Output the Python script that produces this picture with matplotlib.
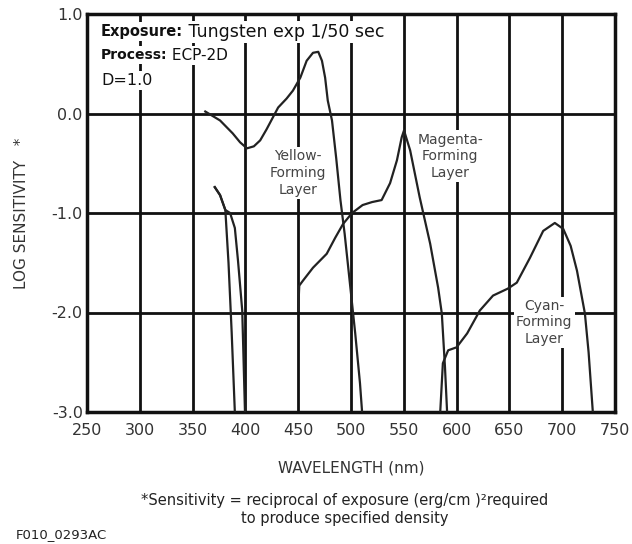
import matplotlib
matplotlib.use("Agg")
import matplotlib.pyplot as plt

# values (wavelength nm, log sensitivity)
yellow_nm = [362, 376, 388, 395, 401.5, 408, 414, 420, 426, 431, 439, 445, 452, 458, 464, 469, 472.5,
             475.5, 478, 482, 486, 490, 494, 499, 504, 508.5, 510.5]
yellow_ls = [0.02, -0.07, -0.20, -0.29, -0.35, -0.33, -0.27, -0.16, -0.04, 0.06, 0.15, 0.23, 0.36, 0.53,
             0.61, 0.62, 0.53, 0.36, 0.13, -0.07, -0.45, -0.87, -1.21, -1.71, -2.21, -2.71, -3.0]

uv_nm_a = [371, 376, 381, 384, 387, 390]
uv_ls_a = [-0.74, -0.82, -0.97, -1.5, -2.2, -3.0]
uv_nm_b = [371, 376, 381, 385.5, 390, 393, 397, 399.6]
uv_ls_b = [-0.74, -0.82, -0.97, -1.0, -1.15, -1.48, -1.98, -3.0]

magenta_nm = [450, 451, 454.5, 464, 477, 485, 492.5, 501, 511, 520, 529, 537, 543.5, 548, 550.2,
              556, 565, 575, 582.5, 586, 589, 591]
magenta_ls = [-1.98, -1.73, -1.68, -1.55, -1.41, -1.25, -1.11, -1.0, -0.92, -0.89, -0.87, -0.70, -0.47,
              -0.24, -0.17, -0.37, -0.84, -1.31, -1.75, -2.01, -2.55, -3.0]

cyan_nm = [584.5, 587, 592, 600, 610, 622, 634.5, 648.5, 657, 669.5, 682, 693, 701, 708, 714, 721.5, 725, 729]
cyan_ls = [-3.0, -2.51, -2.38, -2.35, -2.21, -1.98, -1.83, -1.76, -1.70, -1.45, -1.18, -1.10, -1.16,
           -1.33, -1.58, -2.01, -2.4, -3.0]

x_ticks = [250, 300, 350, 400, 450, 500, 550, 600, 650, 700, 750]
y_ticks = [1.0, 0.0, -1.0, -2.0, -3.0]

fig = plt.figure(figsize=(6.32, 5.44), dpi=100)
ax = fig.add_axes([87 / 632, 1 - 412 / 544, 528 / 632, 398 / 544])
ax.set_xlim(250, 750)
ax.set_ylim(-3.0, 1.0)
ax.set_xticks(x_ticks)
ax.set_yticks(y_ticks)
ax.set_yticklabels([f'{v:.1f}' for v in y_ticks])
ax.tick_params(length=0, labelsize=11.5, labelcolor='#333333')
ax.tick_params(axis='x', pad=8)
ax.tick_params(axis='y', pad=3)
ax.grid(True, color='#111111', lw=2)
ax.set_axisbelow(True)
for s in ax.spines.values():
    s.set_linewidth(2.5)
    s.set_color('#111111')

lc = '#222222'
ax.plot(yellow_nm, yellow_ls, color=lc, lw=1.6, zorder=4)
ax.plot(uv_nm_a, uv_ls_a, color=lc, lw=1.6, zorder=4)
ax.plot(uv_nm_b, uv_ls_b, color=lc, lw=1.6, zorder=4)
ax.plot(magenta_nm, magenta_ls, color=lc, lw=1.6, zorder=4)
ax.plot(cyan_nm, cyan_ls, color=lc, lw=1.6, zorder=4)

wb = dict(facecolor='white', edgecolor='none', pad=1.5)
t1 = ax.text(263, 0.82, 'Exposure:', fontsize=10.5, fontweight='bold', color='#111111',
             va='center', bbox=wb, zorder=3)
ax.annotate(' Tungsten exp 1/50 sec', xy=(1, 0.5), xycoords=t1, fontsize=12.5, color='#111111',
            va='center', bbox=wb, zorder=3)
t2 = ax.text(263, 0.585, 'Process:', fontsize=10, fontweight='bold', color='#111111',
             va='center', bbox=wb, zorder=3)
ax.annotate(' ECP-2D', xy=(1, 0.5), xycoords=t2, fontsize=11, color='#111111',
            va='center', bbox=wb, zorder=3)
ax.text(264, 0.33, 'D=1.0', fontsize=11.5, color='#111111', va='center', bbox=wb, zorder=3)

lab = dict(fontsize=10, color='#444444', ha='center', va='center', linespacing=1.25, bbox=wb, zorder=3)
ax.text(450, -0.6, 'Yellow-\nForming\nLayer', **lab)
ax.text(594, -0.43, 'Magenta-\nForming\nLayer', **lab)
ax.text(683, -2.1, 'Cyan-\nForming\nLayer', **lab)

ax.set_xlabel('WAVELENGTH (nm)', fontsize=11, color='#333333', labelpad=16)
ax.set_ylabel('LOG SENSITIVITY   *', fontsize=11, color='#333333', labelpad=16)

fig.text(0.545, 1 - 500 / 544, '*Sensitivity = reciprocal of exposure (erg/cm )\u00b2required',
         ha='center', va='center', fontsize=10.5, color='#222222')
fig.text(0.545, 1 - 518 / 544, 'to produce specified density',
         ha='center', va='center', fontsize=10.5, color='#222222')
fig.text(0.025, 1 - 535 / 544, 'F010_0293AC', ha='left', va='center', fontsize=9.5, color='#222222')

fig.savefig('out.png', dpi=100)
